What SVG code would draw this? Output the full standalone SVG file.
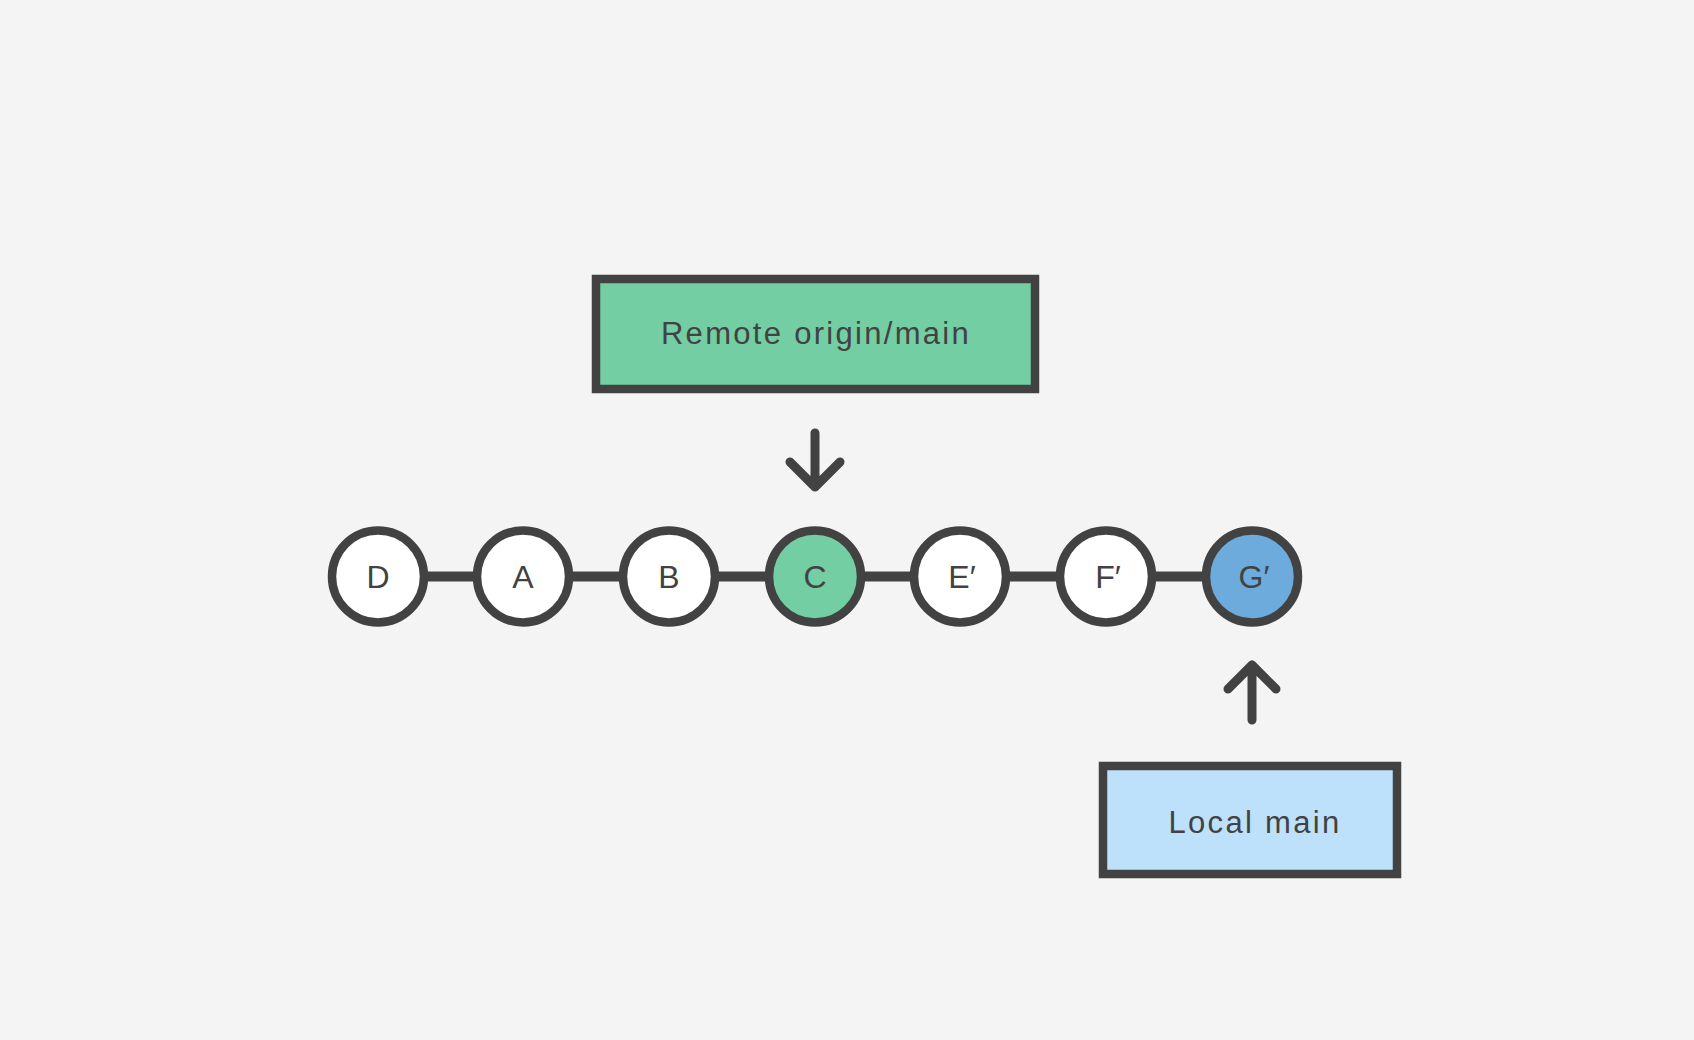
<svg xmlns="http://www.w3.org/2000/svg" width="1694" height="1040" viewBox="0 0 1694 1040">
<style>
.bg{fill:#f4f4f4}
.node circle{stroke:#424242;stroke-width:8.5}
.box rect{stroke:#424242;stroke-width:8.5}
.lbl{font-family:"Liberation Sans",Arial,sans-serif;font-size:31px;fill:#424242;text-anchor:middle;letter-spacing:2.3px}
.cl{font-family:"Liberation Sans",Arial,sans-serif;font-size:32px;fill:#424242;text-anchor:middle}
.link{stroke:#424242;stroke-width:10;fill:none}
.arrow{stroke:#424242;stroke-width:9;fill:none;stroke-linecap:round;stroke-linejoin:round}
</style>
<rect class="bg" x="0" y="0" width="1694" height="1040"/>
<g id="connectors">
<line class="link" x1="420" y1="576.5" x2="481" y2="576.5"/>
<line class="link" x1="565" y1="576.5" x2="627" y2="576.5"/>
<line class="link" x1="711" y1="576.5" x2="773" y2="576.5"/>
<line class="link" x1="857" y1="576.5" x2="918" y2="576.5"/>
<line class="link" x1="1002" y1="576.5" x2="1064" y2="576.5"/>
<line class="link" x1="1148" y1="576.5" x2="1210" y2="576.5"/>
<path class="arrow" d="M815 433 V487 M790 462 L815 487 L840 462"/>
<path class="arrow" d="M1252 720 V665 M1228 689 L1252 665 L1276 689"/>
</g>
<g id="remote" class="box">
<rect x="596" y="279" width="439" height="110" fill="#73cea3"/>
<text class="lbl" x="816" y="344">Remote origin/main</text>
</g>
<g id="local" class="box">
<rect x="1103" y="766" width="294" height="108" fill="#bee1fb"/>
<text class="lbl" x="1255" y="833">Local main</text>
</g>
<g id="nD" class="node"><circle cx="378" cy="576.5" r="46" fill="#ffffff"/><text class="cl" x="378" y="588">D</text></g>
<g id="nA" class="node"><circle cx="523" cy="576.5" r="46" fill="#ffffff"/><text class="cl" x="523" y="588">A</text></g>
<g id="nB" class="node"><circle cx="669" cy="576.5" r="46" fill="#ffffff"/><text class="cl" x="669" y="588">B</text></g>
<g id="nC" class="node"><circle cx="815" cy="576.5" r="46" fill="#73cea3"/><text class="cl" x="815" y="588">C</text></g>
<g id="nE" class="node"><circle cx="960" cy="576.5" r="46" fill="#ffffff"/><text class="cl" x="962" y="588">E′</text></g>
<g id="nF" class="node"><circle cx="1106" cy="576.5" r="46" fill="#ffffff"/><text class="cl" x="1108" y="588">F′</text></g>
<g id="nG" class="node"><circle cx="1252" cy="576.5" r="46" fill="#6cabdc"/><text class="cl" x="1254" y="588">G′</text></g>
</svg>
